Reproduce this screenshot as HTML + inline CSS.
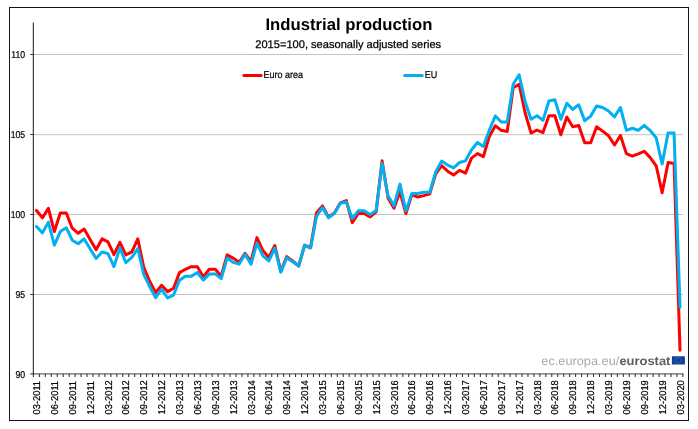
<!DOCTYPE html>
<html lang="en">
<head>
<meta charset="utf-8">
<title>Industrial production</title>
<style>
html,body{margin:0;padding:0;background:#fff;}
body{width:698px;height:429px;position:relative;overflow:hidden;font-family:"Liberation Sans",Arial,sans-serif;}
svg text{font-family:"Liberation Sans",Arial,sans-serif;fill:#000;text-rendering:geometricPrecision;}
.t7{font-size:10px;stroke:#000;stroke-width:.22px;}
.title{font-size:16.7px;font-weight:bold;}
.sub{font-size:11.1px;stroke:#000;stroke-width:.25px;}
.logo{font-size:12.1px;filter:blur(0.3px);}
</style>
</head>
<body>
<svg width="698" height="429" viewBox="0 0 698 429" style="position:absolute;left:0;top:0">
<rect x="0" y="0" width="698" height="429" fill="#fff"/>
<rect x="9.5" y="7.5" width="679" height="413" fill="none" stroke="#161616" stroke-width="1" shape-rendering="crispEdges"/>
<line x1="33.5" y1="294.5" x2="683.0" y2="294.5" stroke="#c3c3c3" stroke-width="1" shape-rendering="crispEdges"/>
<line x1="33.5" y1="214.5" x2="683.0" y2="214.5" stroke="#c3c3c3" stroke-width="1" shape-rendering="crispEdges"/>
<line x1="33.5" y1="134.7" x2="683.0" y2="134.7" stroke="#c3c3c3" stroke-width="1"/>
<line x1="33.5" y1="54.5" x2="683.0" y2="54.5" stroke="#c3c3c3" stroke-width="1" shape-rendering="crispEdges"/>
<line x1="33.35" y1="22.6" x2="33.35" y2="374.4" stroke="#2a2a2a" stroke-width="1.1"/>
<line x1="33.0" y1="373.9" x2="683.5" y2="373.9" stroke="#444" stroke-width="1"/>
<line x1="30.3" y1="373.9" x2="33.5" y2="373.9" stroke="#2a2a2a" stroke-width="1"/>
<text transform="translate(25.2,377.9) scale(0.87,1)" text-anchor="end" class="t7">90</text>
<line x1="30.3" y1="294.5" x2="33.5" y2="294.5" stroke="#2a2a2a" stroke-width="1"/>
<text transform="translate(25.2,298.0) scale(0.87,1)" text-anchor="end" class="t7">95</text>
<line x1="30.3" y1="214.5" x2="33.5" y2="214.5" stroke="#2a2a2a" stroke-width="1"/>
<text transform="translate(25.2,218.0) scale(0.87,1)" text-anchor="end" class="t7">100</text>
<line x1="30.3" y1="134.5" x2="33.5" y2="134.5" stroke="#2a2a2a" stroke-width="1"/>
<text transform="translate(25.2,138.0) scale(0.87,1)" text-anchor="end" class="t7">105</text>
<line x1="30.3" y1="54.5" x2="33.5" y2="54.5" stroke="#2a2a2a" stroke-width="1"/>
<text transform="translate(25.2,58.0) scale(0.87,1)" text-anchor="end" class="t7">110</text>
<line x1="33.40" y1="373.9" x2="33.40" y2="377.0" stroke="#2a2a2a" stroke-width="1"/>
<line x1="39.36" y1="373.9" x2="39.36" y2="377.0" stroke="#2a2a2a" stroke-width="1"/>
<line x1="45.32" y1="373.9" x2="45.32" y2="377.0" stroke="#2a2a2a" stroke-width="1"/>
<line x1="51.28" y1="373.9" x2="51.28" y2="377.0" stroke="#2a2a2a" stroke-width="1"/>
<line x1="57.23" y1="373.9" x2="57.23" y2="377.0" stroke="#2a2a2a" stroke-width="1"/>
<line x1="63.19" y1="373.9" x2="63.19" y2="377.0" stroke="#2a2a2a" stroke-width="1"/>
<line x1="69.15" y1="373.9" x2="69.15" y2="377.0" stroke="#2a2a2a" stroke-width="1"/>
<line x1="75.11" y1="373.9" x2="75.11" y2="377.0" stroke="#2a2a2a" stroke-width="1"/>
<line x1="81.07" y1="373.9" x2="81.07" y2="377.0" stroke="#2a2a2a" stroke-width="1"/>
<line x1="87.03" y1="373.9" x2="87.03" y2="377.0" stroke="#2a2a2a" stroke-width="1"/>
<line x1="92.99" y1="373.9" x2="92.99" y2="377.0" stroke="#2a2a2a" stroke-width="1"/>
<line x1="98.95" y1="373.9" x2="98.95" y2="377.0" stroke="#2a2a2a" stroke-width="1"/>
<line x1="104.90" y1="373.9" x2="104.90" y2="377.0" stroke="#2a2a2a" stroke-width="1"/>
<line x1="110.86" y1="373.9" x2="110.86" y2="377.0" stroke="#2a2a2a" stroke-width="1"/>
<line x1="116.82" y1="373.9" x2="116.82" y2="377.0" stroke="#2a2a2a" stroke-width="1"/>
<line x1="122.78" y1="373.9" x2="122.78" y2="377.0" stroke="#2a2a2a" stroke-width="1"/>
<line x1="128.74" y1="373.9" x2="128.74" y2="377.0" stroke="#2a2a2a" stroke-width="1"/>
<line x1="134.70" y1="373.9" x2="134.70" y2="377.0" stroke="#2a2a2a" stroke-width="1"/>
<line x1="140.66" y1="373.9" x2="140.66" y2="377.0" stroke="#2a2a2a" stroke-width="1"/>
<line x1="146.62" y1="373.9" x2="146.62" y2="377.0" stroke="#2a2a2a" stroke-width="1"/>
<line x1="152.57" y1="373.9" x2="152.57" y2="377.0" stroke="#2a2a2a" stroke-width="1"/>
<line x1="158.53" y1="373.9" x2="158.53" y2="377.0" stroke="#2a2a2a" stroke-width="1"/>
<line x1="164.49" y1="373.9" x2="164.49" y2="377.0" stroke="#2a2a2a" stroke-width="1"/>
<line x1="170.45" y1="373.9" x2="170.45" y2="377.0" stroke="#2a2a2a" stroke-width="1"/>
<line x1="176.41" y1="373.9" x2="176.41" y2="377.0" stroke="#2a2a2a" stroke-width="1"/>
<line x1="182.37" y1="373.9" x2="182.37" y2="377.0" stroke="#2a2a2a" stroke-width="1"/>
<line x1="188.33" y1="373.9" x2="188.33" y2="377.0" stroke="#2a2a2a" stroke-width="1"/>
<line x1="194.29" y1="373.9" x2="194.29" y2="377.0" stroke="#2a2a2a" stroke-width="1"/>
<line x1="200.24" y1="373.9" x2="200.24" y2="377.0" stroke="#2a2a2a" stroke-width="1"/>
<line x1="206.20" y1="373.9" x2="206.20" y2="377.0" stroke="#2a2a2a" stroke-width="1"/>
<line x1="212.16" y1="373.9" x2="212.16" y2="377.0" stroke="#2a2a2a" stroke-width="1"/>
<line x1="218.12" y1="373.9" x2="218.12" y2="377.0" stroke="#2a2a2a" stroke-width="1"/>
<line x1="224.08" y1="373.9" x2="224.08" y2="377.0" stroke="#2a2a2a" stroke-width="1"/>
<line x1="230.04" y1="373.9" x2="230.04" y2="377.0" stroke="#2a2a2a" stroke-width="1"/>
<line x1="236.00" y1="373.9" x2="236.00" y2="377.0" stroke="#2a2a2a" stroke-width="1"/>
<line x1="241.96" y1="373.9" x2="241.96" y2="377.0" stroke="#2a2a2a" stroke-width="1"/>
<line x1="247.91" y1="373.9" x2="247.91" y2="377.0" stroke="#2a2a2a" stroke-width="1"/>
<line x1="253.87" y1="373.9" x2="253.87" y2="377.0" stroke="#2a2a2a" stroke-width="1"/>
<line x1="259.83" y1="373.9" x2="259.83" y2="377.0" stroke="#2a2a2a" stroke-width="1"/>
<line x1="265.79" y1="373.9" x2="265.79" y2="377.0" stroke="#2a2a2a" stroke-width="1"/>
<line x1="271.75" y1="373.9" x2="271.75" y2="377.0" stroke="#2a2a2a" stroke-width="1"/>
<line x1="277.71" y1="373.9" x2="277.71" y2="377.0" stroke="#2a2a2a" stroke-width="1"/>
<line x1="283.67" y1="373.9" x2="283.67" y2="377.0" stroke="#2a2a2a" stroke-width="1"/>
<line x1="289.62" y1="373.9" x2="289.62" y2="377.0" stroke="#2a2a2a" stroke-width="1"/>
<line x1="295.58" y1="373.9" x2="295.58" y2="377.0" stroke="#2a2a2a" stroke-width="1"/>
<line x1="301.54" y1="373.9" x2="301.54" y2="377.0" stroke="#2a2a2a" stroke-width="1"/>
<line x1="307.50" y1="373.9" x2="307.50" y2="377.0" stroke="#2a2a2a" stroke-width="1"/>
<line x1="313.46" y1="373.9" x2="313.46" y2="377.0" stroke="#2a2a2a" stroke-width="1"/>
<line x1="319.42" y1="373.9" x2="319.42" y2="377.0" stroke="#2a2a2a" stroke-width="1"/>
<line x1="325.38" y1="373.9" x2="325.38" y2="377.0" stroke="#2a2a2a" stroke-width="1"/>
<line x1="331.34" y1="373.9" x2="331.34" y2="377.0" stroke="#2a2a2a" stroke-width="1"/>
<line x1="337.29" y1="373.9" x2="337.29" y2="377.0" stroke="#2a2a2a" stroke-width="1"/>
<line x1="343.25" y1="373.9" x2="343.25" y2="377.0" stroke="#2a2a2a" stroke-width="1"/>
<line x1="349.21" y1="373.9" x2="349.21" y2="377.0" stroke="#2a2a2a" stroke-width="1"/>
<line x1="355.17" y1="373.9" x2="355.17" y2="377.0" stroke="#2a2a2a" stroke-width="1"/>
<line x1="361.13" y1="373.9" x2="361.13" y2="377.0" stroke="#2a2a2a" stroke-width="1"/>
<line x1="367.09" y1="373.9" x2="367.09" y2="377.0" stroke="#2a2a2a" stroke-width="1"/>
<line x1="373.05" y1="373.9" x2="373.05" y2="377.0" stroke="#2a2a2a" stroke-width="1"/>
<line x1="379.01" y1="373.9" x2="379.01" y2="377.0" stroke="#2a2a2a" stroke-width="1"/>
<line x1="384.96" y1="373.9" x2="384.96" y2="377.0" stroke="#2a2a2a" stroke-width="1"/>
<line x1="390.92" y1="373.9" x2="390.92" y2="377.0" stroke="#2a2a2a" stroke-width="1"/>
<line x1="396.88" y1="373.9" x2="396.88" y2="377.0" stroke="#2a2a2a" stroke-width="1"/>
<line x1="402.84" y1="373.9" x2="402.84" y2="377.0" stroke="#2a2a2a" stroke-width="1"/>
<line x1="408.80" y1="373.9" x2="408.80" y2="377.0" stroke="#2a2a2a" stroke-width="1"/>
<line x1="414.76" y1="373.9" x2="414.76" y2="377.0" stroke="#2a2a2a" stroke-width="1"/>
<line x1="420.72" y1="373.9" x2="420.72" y2="377.0" stroke="#2a2a2a" stroke-width="1"/>
<line x1="426.68" y1="373.9" x2="426.68" y2="377.0" stroke="#2a2a2a" stroke-width="1"/>
<line x1="432.63" y1="373.9" x2="432.63" y2="377.0" stroke="#2a2a2a" stroke-width="1"/>
<line x1="438.59" y1="373.9" x2="438.59" y2="377.0" stroke="#2a2a2a" stroke-width="1"/>
<line x1="444.55" y1="373.9" x2="444.55" y2="377.0" stroke="#2a2a2a" stroke-width="1"/>
<line x1="450.51" y1="373.9" x2="450.51" y2="377.0" stroke="#2a2a2a" stroke-width="1"/>
<line x1="456.47" y1="373.9" x2="456.47" y2="377.0" stroke="#2a2a2a" stroke-width="1"/>
<line x1="462.43" y1="373.9" x2="462.43" y2="377.0" stroke="#2a2a2a" stroke-width="1"/>
<line x1="468.39" y1="373.9" x2="468.39" y2="377.0" stroke="#2a2a2a" stroke-width="1"/>
<line x1="474.34" y1="373.9" x2="474.34" y2="377.0" stroke="#2a2a2a" stroke-width="1"/>
<line x1="480.30" y1="373.9" x2="480.30" y2="377.0" stroke="#2a2a2a" stroke-width="1"/>
<line x1="486.26" y1="373.9" x2="486.26" y2="377.0" stroke="#2a2a2a" stroke-width="1"/>
<line x1="492.22" y1="373.9" x2="492.22" y2="377.0" stroke="#2a2a2a" stroke-width="1"/>
<line x1="498.18" y1="373.9" x2="498.18" y2="377.0" stroke="#2a2a2a" stroke-width="1"/>
<line x1="504.14" y1="373.9" x2="504.14" y2="377.0" stroke="#2a2a2a" stroke-width="1"/>
<line x1="510.10" y1="373.9" x2="510.10" y2="377.0" stroke="#2a2a2a" stroke-width="1"/>
<line x1="516.06" y1="373.9" x2="516.06" y2="377.0" stroke="#2a2a2a" stroke-width="1"/>
<line x1="522.01" y1="373.9" x2="522.01" y2="377.0" stroke="#2a2a2a" stroke-width="1"/>
<line x1="527.97" y1="373.9" x2="527.97" y2="377.0" stroke="#2a2a2a" stroke-width="1"/>
<line x1="533.93" y1="373.9" x2="533.93" y2="377.0" stroke="#2a2a2a" stroke-width="1"/>
<line x1="539.89" y1="373.9" x2="539.89" y2="377.0" stroke="#2a2a2a" stroke-width="1"/>
<line x1="545.85" y1="373.9" x2="545.85" y2="377.0" stroke="#2a2a2a" stroke-width="1"/>
<line x1="551.81" y1="373.9" x2="551.81" y2="377.0" stroke="#2a2a2a" stroke-width="1"/>
<line x1="557.77" y1="373.9" x2="557.77" y2="377.0" stroke="#2a2a2a" stroke-width="1"/>
<line x1="563.73" y1="373.9" x2="563.73" y2="377.0" stroke="#2a2a2a" stroke-width="1"/>
<line x1="569.68" y1="373.9" x2="569.68" y2="377.0" stroke="#2a2a2a" stroke-width="1"/>
<line x1="575.64" y1="373.9" x2="575.64" y2="377.0" stroke="#2a2a2a" stroke-width="1"/>
<line x1="581.60" y1="373.9" x2="581.60" y2="377.0" stroke="#2a2a2a" stroke-width="1"/>
<line x1="587.56" y1="373.9" x2="587.56" y2="377.0" stroke="#2a2a2a" stroke-width="1"/>
<line x1="593.52" y1="373.9" x2="593.52" y2="377.0" stroke="#2a2a2a" stroke-width="1"/>
<line x1="599.48" y1="373.9" x2="599.48" y2="377.0" stroke="#2a2a2a" stroke-width="1"/>
<line x1="605.44" y1="373.9" x2="605.44" y2="377.0" stroke="#2a2a2a" stroke-width="1"/>
<line x1="611.40" y1="373.9" x2="611.40" y2="377.0" stroke="#2a2a2a" stroke-width="1"/>
<line x1="617.35" y1="373.9" x2="617.35" y2="377.0" stroke="#2a2a2a" stroke-width="1"/>
<line x1="623.31" y1="373.9" x2="623.31" y2="377.0" stroke="#2a2a2a" stroke-width="1"/>
<line x1="629.27" y1="373.9" x2="629.27" y2="377.0" stroke="#2a2a2a" stroke-width="1"/>
<line x1="635.23" y1="373.9" x2="635.23" y2="377.0" stroke="#2a2a2a" stroke-width="1"/>
<line x1="641.19" y1="373.9" x2="641.19" y2="377.0" stroke="#2a2a2a" stroke-width="1"/>
<line x1="647.15" y1="373.9" x2="647.15" y2="377.0" stroke="#2a2a2a" stroke-width="1"/>
<line x1="653.11" y1="373.9" x2="653.11" y2="377.0" stroke="#2a2a2a" stroke-width="1"/>
<line x1="659.07" y1="373.9" x2="659.07" y2="377.0" stroke="#2a2a2a" stroke-width="1"/>
<line x1="665.02" y1="373.9" x2="665.02" y2="377.0" stroke="#2a2a2a" stroke-width="1"/>
<line x1="670.98" y1="373.9" x2="670.98" y2="377.0" stroke="#2a2a2a" stroke-width="1"/>
<line x1="676.94" y1="373.9" x2="676.94" y2="377.0" stroke="#2a2a2a" stroke-width="1"/>
<line x1="682.90" y1="373.9" x2="682.90" y2="377.0" stroke="#2a2a2a" stroke-width="1"/>
<text transform="translate(40.08,414.4) rotate(-90) scale(0.93,1)" class="t7">03-2011</text>
<text transform="translate(57.96,414.4) rotate(-90) scale(0.93,1)" class="t7">06-2011</text>
<text transform="translate(75.83,414.4) rotate(-90) scale(0.93,1)" class="t7">09-2011</text>
<text transform="translate(93.71,414.4) rotate(-90) scale(0.93,1)" class="t7">12-2011</text>
<text transform="translate(111.58,414.4) rotate(-90) scale(0.93,1)" class="t7">03-2012</text>
<text transform="translate(129.46,414.4) rotate(-90) scale(0.93,1)" class="t7">06-2012</text>
<text transform="translate(147.34,414.4) rotate(-90) scale(0.93,1)" class="t7">09-2012</text>
<text transform="translate(165.21,414.4) rotate(-90) scale(0.93,1)" class="t7">12-2012</text>
<text transform="translate(183.09,414.4) rotate(-90) scale(0.93,1)" class="t7">03-2013</text>
<text transform="translate(200.96,414.4) rotate(-90) scale(0.93,1)" class="t7">06-2013</text>
<text transform="translate(218.84,414.4) rotate(-90) scale(0.93,1)" class="t7">09-2013</text>
<text transform="translate(236.72,414.4) rotate(-90) scale(0.93,1)" class="t7">12-2013</text>
<text transform="translate(254.59,414.4) rotate(-90) scale(0.93,1)" class="t7">03-2014</text>
<text transform="translate(272.47,414.4) rotate(-90) scale(0.93,1)" class="t7">06-2014</text>
<text transform="translate(290.35,414.4) rotate(-90) scale(0.93,1)" class="t7">09-2014</text>
<text transform="translate(308.22,414.4) rotate(-90) scale(0.93,1)" class="t7">12-2014</text>
<text transform="translate(326.10,414.4) rotate(-90) scale(0.93,1)" class="t7">03-2015</text>
<text transform="translate(343.97,414.4) rotate(-90) scale(0.93,1)" class="t7">06-2015</text>
<text transform="translate(361.85,414.4) rotate(-90) scale(0.93,1)" class="t7">09-2015</text>
<text transform="translate(379.73,414.4) rotate(-90) scale(0.93,1)" class="t7">12-2015</text>
<text transform="translate(397.60,414.4) rotate(-90) scale(0.93,1)" class="t7">03-2016</text>
<text transform="translate(415.48,414.4) rotate(-90) scale(0.93,1)" class="t7">06-2016</text>
<text transform="translate(433.35,414.4) rotate(-90) scale(0.93,1)" class="t7">09-2016</text>
<text transform="translate(451.23,414.4) rotate(-90) scale(0.93,1)" class="t7">12-2016</text>
<text transform="translate(469.11,414.4) rotate(-90) scale(0.93,1)" class="t7">03-2017</text>
<text transform="translate(486.98,414.4) rotate(-90) scale(0.93,1)" class="t7">06-2017</text>
<text transform="translate(504.86,414.4) rotate(-90) scale(0.93,1)" class="t7">09-2017</text>
<text transform="translate(522.74,414.4) rotate(-90) scale(0.93,1)" class="t7">12-2017</text>
<text transform="translate(540.61,414.4) rotate(-90) scale(0.93,1)" class="t7">03-2018</text>
<text transform="translate(558.49,414.4) rotate(-90) scale(0.93,1)" class="t7">06-2018</text>
<text transform="translate(576.36,414.4) rotate(-90) scale(0.93,1)" class="t7">09-2018</text>
<text transform="translate(594.24,414.4) rotate(-90) scale(0.93,1)" class="t7">12-2018</text>
<text transform="translate(612.12,414.4) rotate(-90) scale(0.93,1)" class="t7">03-2019</text>
<text transform="translate(629.99,414.4) rotate(-90) scale(0.93,1)" class="t7">06-2019</text>
<text transform="translate(647.87,414.4) rotate(-90) scale(0.93,1)" class="t7">09-2019</text>
<text transform="translate(665.74,414.4) rotate(-90) scale(0.93,1)" class="t7">12-2019</text>
<text transform="translate(683.62,414.4) rotate(-90) scale(0.93,1)" class="t7">03-2020</text>
<polyline points="36.48,210.50 42.44,217.84 48.40,208.26 54.36,231.58 60.31,213.05 66.27,213.05 72.23,228.22 78.19,233.33 84.15,229.02 90.11,239.40 96.07,249.78 102.03,238.92 107.98,241.96 113.94,254.57 119.90,242.28 125.86,254.89 131.82,251.86 137.78,238.92 143.74,267.35 149.69,281.24 155.65,292.58 161.61,285.24 167.57,291.63 173.53,288.27 179.49,272.62 185.45,269.27 191.41,266.71 197.36,266.71 203.32,276.93 209.28,269.27 215.24,269.27 221.20,276.13 227.16,254.89 233.12,258.09 239.08,262.40 245.03,253.30 250.99,261.44 256.95,237.65 262.91,250.58 268.87,257.45 274.83,245.47 280.79,271.34 286.75,256.65 292.70,260.96 298.66,266.07 304.62,245.15 310.58,247.55 316.54,212.73 322.50,205.87 328.46,216.89 334.42,213.05 340.37,202.83 346.33,200.60 352.29,222.63 358.25,213.53 364.21,213.53 370.17,216.89 376.13,211.78 382.08,160.83 388.04,197.88 394.00,208.26 399.96,191.81 405.92,213.53 411.88,194.53 417.84,197.08 423.80,195.65 429.75,193.89 435.71,173.77 441.67,165.62 447.63,171.21 453.59,175.04 459.55,170.41 465.51,173.13 471.47,158.12 477.42,153.64 483.38,156.68 489.34,136.40 495.30,125.70 501.26,130.33 507.22,131.45 513.18,87.69 519.14,84.18 525.09,112.76 531.05,133.04 537.01,130.01 542.97,132.56 548.93,115.80 554.89,115.80 560.85,134.80 566.81,117.07 572.76,126.81 578.72,125.54 584.68,142.78 590.64,142.78 596.60,126.81 602.56,131.13 608.52,135.76 614.47,145.02 620.43,135.44 626.39,153.64 632.35,156.20 638.31,153.96 644.27,151.25 650.23,157.64 656.19,165.78 662.14,192.77 668.10,162.43 674.06,163.55 680.02,350.24" fill="none" stroke="#ff0000" stroke-width="3" stroke-linejoin="round" stroke-linecap="round"/>
<polyline points="36.48,226.47 42.44,232.86 48.40,222.16 54.36,245.15 60.31,231.58 66.27,227.75 72.23,240.20 78.19,243.72 84.15,238.92 90.11,248.83 96.07,258.41 102.03,252.02 107.98,253.62 113.94,266.55 119.90,248.03 125.86,262.72 131.82,257.45 137.78,248.51 143.74,274.38 149.69,286.51 155.65,297.69 161.61,289.39 167.57,298.01 173.53,295.14 179.49,280.13 185.45,276.13 191.41,276.13 197.36,272.62 203.32,280.13 209.28,273.90 215.24,273.90 221.20,278.69 227.16,258.09 233.12,262.40 239.08,264.16 245.03,254.26 250.99,264.32 256.95,243.08 262.91,255.85 268.87,260.96 274.83,248.03 280.79,272.14 286.75,257.77 292.70,261.76 298.66,266.07 304.62,245.47 310.58,248.03 316.54,216.25 322.50,207.62 328.46,217.84 334.42,213.53 340.37,203.31 346.33,202.03 352.29,218.64 358.25,210.82 364.21,210.82 370.17,214.49 376.13,210.82 382.08,163.39 388.04,195.65 394.00,205.71 399.96,184.15 405.92,210.82 411.88,193.57 417.84,193.57 423.80,192.29 429.75,192.29 435.71,172.01 441.67,160.99 447.63,165.14 453.59,167.86 459.55,162.43 465.51,160.83 471.47,149.97 477.42,142.47 483.38,146.46 489.34,130.17 495.30,115.96 501.26,122.02 507.22,122.02 513.18,84.18 519.14,74.75 525.09,101.42 531.05,119.31 537.01,115.80 542.97,120.43 548.93,100.94 554.89,99.83 560.85,119.31 566.81,103.18 572.76,109.41 578.72,104.78 584.68,120.75 590.64,116.12 596.60,106.05 602.56,107.49 608.52,111.00 614.47,116.91 620.43,107.49 626.39,130.33 632.35,128.25 638.31,130.33 644.27,125.38 650.23,130.65 656.19,137.83 662.14,164.03 668.10,132.88 674.06,132.88 680.02,307.28" fill="none" stroke="#00b0f0" stroke-width="3" stroke-linejoin="round" stroke-linecap="round"/>
<text x="348.9" y="30.0" text-anchor="middle" class="title">Industrial production</text>
<text x="348.2" y="48.3" text-anchor="middle" class="sub">2015=100, seasonally adjusted series</text>
<line x1="243.9" y1="75.5" x2="261.1" y2="75.5" stroke="#ff0000" stroke-width="3" stroke-linecap="round"/>
<text transform="translate(263.5,78) scale(0.9,1)" class="t7">Euro area</text>
<line x1="404.6" y1="75.5" x2="422.2" y2="75.5" stroke="#00b0f0" stroke-width="3" stroke-linecap="round"/>
<text transform="translate(424.7,78) scale(0.9,1)" class="t7">EU</text>
<text x="541.3" y="364.6" class="logo" fill="#a9a9a9" style="fill:#a9a9a9" textLength="78" lengthAdjust="spacingAndGlyphs">ec.europa.eu/</text>
<text x="619.4" y="364.6" class="logo" font-weight="bold" style="fill:#5f5f5f" textLength="51" lengthAdjust="spacingAndGlyphs">eurostat</text>
<rect x="671.9" y="356.2" width="13" height="8.4" rx="0.5" fill="#0d419b"/>
<circle cx="678.3" cy="360.4" r="2.8" fill="none" stroke="#7d9460" stroke-width="0.8" stroke-dasharray="0.75 0.72" opacity="0.85"/>
</svg>
</body>
</html>
